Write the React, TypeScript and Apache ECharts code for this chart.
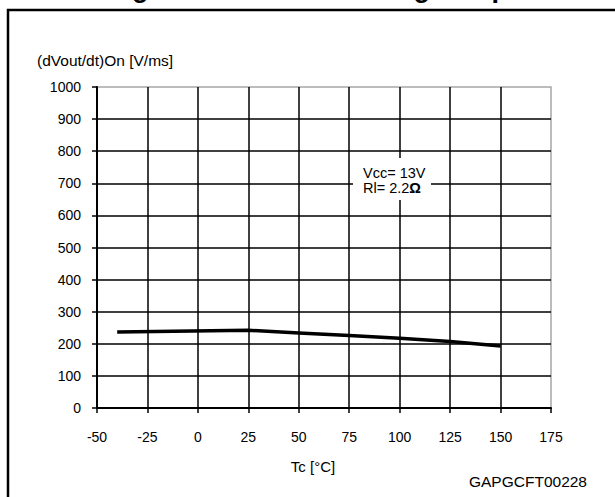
import React, { useEffect, useRef } from "react";
import * as echarts from "echarts";

const temperatures = [-40, 25, 50, 75, 100, 125, 150];
const slopeValues = [237, 242, 234, 226, 217, 207, 193];
const titleText = "Figure 27. Turn-on voltage slope";
const yAxisTitle = "(dVout/dt)On [V/ms]";
const xAxisTitle = "Tc [°C]";
const codeText = "GAPGCFT00228";
const noteLine1 = "Vcc= 13V";
const noteLine2 = "Rl= 2.2";

const FONT = '"Liberation Sans", Arial, sans-serif';

export default function App() {
  const ref = useRef<HTMLDivElement>(null);
  useEffect(() => {
    document.body.style.margin = "0";
    const chart = echarts.init(ref.current!, null, { renderer: "svg" });
    chart.setOption({
      animation: false,
      backgroundColor: "#fff",
      textStyle: { fontFamily: FONT },
      grid: {
        left: 97,
        right: 64,
        top: 87,
        bottom: 89,
        containLabel: false,
        show: true,
        borderColor: "#a6a6a6",
        borderWidth: 1.5,
        backgroundColor: "transparent",
      },
      xAxis: {
        type: "value",
        min: -50,
        max: 175,
        interval: 25,
        axisLine: { show: true, onZero: false, lineStyle: { color: "#000", width: 2 } },
        axisTick: { show: true, length: 5, lineStyle: { color: "#000", width: 1.5 } },
        axisLabel: { color: "#000", fontSize: 14, fontFamily: FONT, margin: 22 },
        splitLine: { show: true, showMinLine: false, showMaxLine: false, lineStyle: { color: "#000", width: 1.5 } },
      },
      yAxis: {
        type: "value",
        min: 0,
        max: 1000,
        interval: 100,
        axisLine: { show: true, onZero: false, lineStyle: { color: "#000", width: 2 } },
        axisTick: { show: true, length: 5, lineStyle: { color: "#000", width: 1.5 } },
        axisLabel: {
          color: "#000",
          fontSize: 14,
          fontFamily: FONT,
          margin: 16,
          formatter: (v: number) => String(v),
        },
        splitLine: { show: true, showMinLine: false, showMaxLine: false, lineStyle: { color: "#000", width: 1.5 } },
      },
      series: [
        {
          type: "line",
          data: temperatures.map((t, i) => [t, slopeValues[i]]),
          symbol: "none",
          lineStyle: { color: "#000", width: 3.5 },
          z: 5,
        },
      ],
      graphic: [
        {
          type: "rect",
          shape: { x: 8, y: 10, width: 700, height: 600 },
          style: { fill: "none", stroke: "#000", lineWidth: 2.5 },
          silent: true,
        },
        {
          type: "text",
          x: 108,
          y: 1,
          style: {
            text: titleText,
            font: `bold 27px ${FONT}`,
            fill: "#000",
            align: "left",
            verticalAlign: "bottom",
          },
        },
        {
          type: "text",
          x: 37,
          y: 60,
          style: { text: yAxisTitle, font: `15.5px ${FONT}`, fill: "#000", align: "left", verticalAlign: "middle" },
        },
        {
          type: "text",
          x: 313,
          y: 466,
          style: { text: xAxisTitle, font: `15px ${FONT}`, fill: "#000", align: "center", verticalAlign: "middle" },
        },
        {
          type: "text",
          x: 587,
          y: 481,
          style: { text: codeText, font: `15.5px ${FONT}`, fill: "#000", align: "right", verticalAlign: "middle" },
        },
        {
          type: "rect",
          shape: { x: 353, y: 158, width: 78, height: 42 },
          style: { fill: "#fff" },
          z: 10,
        },
        {
          type: "text",
          x: 363,
          y: 180,
          z: 11,
          style: {
            text: `${noteLine1}\n${noteLine2}{b|Ω}`,
            font: `14.5px ${FONT}`,
            fill: "#000",
            align: "left",
            verticalAlign: "middle",
            lineHeight: 15,
            rich: { b: { fontWeight: "bold", fontSize: 14.5, fontFamily: FONT, lineHeight: 15 } },
          },
        },
      ],
    });
    return () => chart.dispose();
  }, []);
  return <div ref={ref} style={{ width: 615, height: 497 }} />;
}
